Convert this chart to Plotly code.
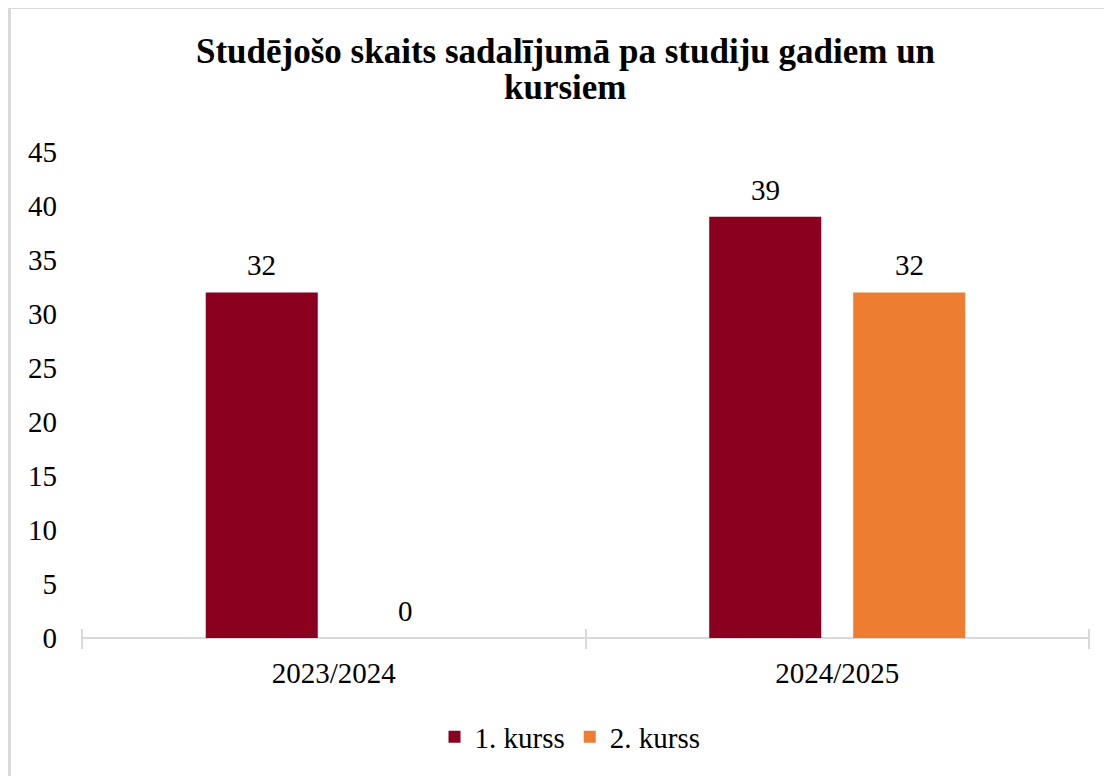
import plotly.graph_objects as go

categories = ["2023/2024", "2024/2025"]
series_names = ["1. kurss", "2. kurss"]
kurss1 = [32, 39]
kurss2 = [0, 32]
colors = ["#8B001E", "#ED7D31"]
y_ticks = [0, 5, 10, 15, 20, 25, 30, 35, 40, 45]
title_lines = ["Studējošo skaits sadalījumā pa studiju gadiem un", "kursiem"]

# page has an 8px body margin, so the figure is sized to fill the rest
W, H = 1104, 768
L, R, T, B = 74, 23, 144, 138
plot_w = W - L - R
plot_h = H - T - B
FONT = "Liberation Serif"
FS = 29
TICK_HALF = 10  # tick marks cross the axis line by this much on each side

fig = go.Figure()
series = [kurss1, kurss2]
for name, vals, col in zip(series_names, series, colors):
    fig.add_trace(go.Bar(x=categories, y=vals, name=name, marker=dict(color=col, line=dict(width=0))))

bargap = 0.428
bargroupgap = 0.222
cat_w = plot_w / len(categories)
slot = cat_w * (1 - bargap) / len(series)
annotations = []
for si, vals in enumerate(series):
    shift = (si - (len(series) - 1) / 2) * slot
    for c, v in zip(categories, vals):
        annotations.append(dict(x=c, y=v, xref="x", yref="y", text=str(v), showarrow=False,
                                xshift=shift, yshift=9, yanchor="bottom",
                                font=dict(family=FONT, size=FS, color="#000000")))

# two-line bold title
title_y = [43, 79]
for line, ty in zip(title_lines, title_y):
    annotations.append(dict(text=f"<b>{line}</b>", xref="paper", yref="paper",
                            x=(557 - L) / plot_w, y=1 + (T - ty) / plot_h,
                            xanchor="center", yanchor="middle", showarrow=False,
                            font=dict(family=FONT, size=35, color="#000000")))

shapes = [dict(type="rect", xref="paper", yref="paper",
               x0=-(L - 1.5) / plot_w, x1=1 + (R + 20) / plot_w,
               y0=-(B + 20) / plot_h, y1=1 + (T + 0.5) / plot_h,
               line=dict(color="#D9D9D9", width=3), layer="below")]

fig.update_layout(
    width=W, height=H,
    margin=dict(l=L, r=R, t=T, b=B, pad=0),
    paper_bgcolor="white", plot_bgcolor="white",
    barmode="group", bargap=bargap, bargroupgap=bargroupgap,
    font=dict(family=FONT, size=FS, color="#000000"),
    xaxis=dict(type="category", categoryorder="array", categoryarray=categories,
               range=[-0.5, len(categories) - 0.5], anchor="free", position=TICK_HALF / plot_h,
               tickson="boundaries", ticks="outside", ticklen=2 * TICK_HALF,
               tickcolor="#D9D9D9", tickwidth=2, showline=False, showgrid=False, zeroline=False,
               ticklabelstandoff=25, tickfont=dict(family=FONT, size=FS, color="#000000")),
    yaxis=dict(range=[0, 45], tickvals=y_ticks, showline=False, ticks="", showgrid=False,
               zeroline=True, zerolinecolor="#D9D9D9", zerolinewidth=2,
               ticklabelstandoff=24, tickfont=dict(family=FONT, size=FS, color="#000000")),
    legend=dict(orientation="h", x=562 / W, xanchor="center", xref="container", y=1 - 729 / H,
                yref="container", yanchor="middle", font=dict(family=FONT, size=FS, color="#000000"),
                itemwidth=30, traceorder="normal"),
    annotations=annotations,
    shapes=shapes,
    showlegend=True,
)

fig.write_html("out.html")
